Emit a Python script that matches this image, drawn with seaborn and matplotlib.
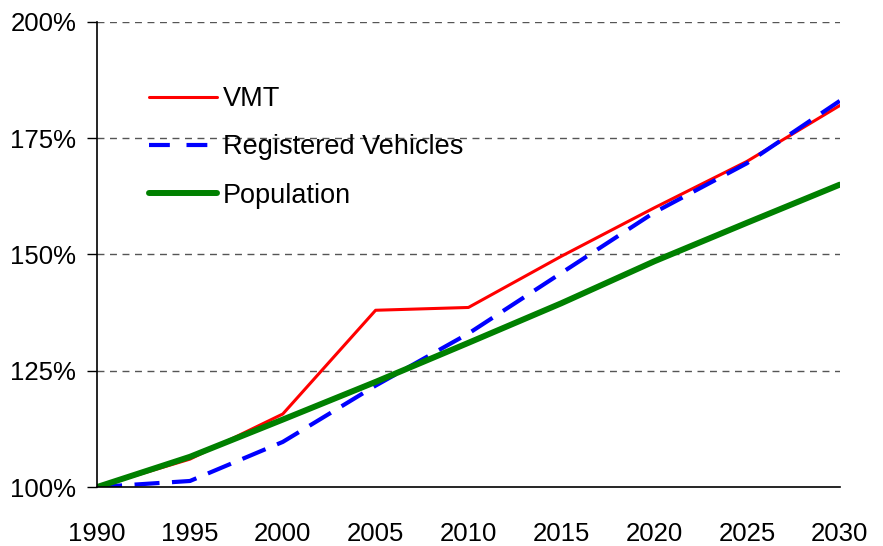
import numpy as np
import pandas as pd
import matplotlib.pyplot as plt
import seaborn as sns
from matplotlib.ticker import FuncFormatter

years = [1990, 1995, 2000, 2005, 2010, 2015, 2020, 2025, 2030]
vmt = [100, 106, 115.7, 138, 138.6, 149.6, 160, 170, 182]
vehicles = [100, 101.3, 109.7, 121.8, 133, 146, 159, 169.6, 183]
population = [100, 106.5, 114.5, 122.6, 131, 139.5, 148.5, 156.8, 165]

series = ["VMT", "Registered Vehicles", "Population"]
colors = ["#ff0000", "#0000ff", "#008000"]
widths = [2.2, 3.0, 4.3]

df = pd.DataFrame({"year": years, "VMT": vmt,
                   "Registered Vehicles": vehicles, "Population": population})

sns.set_style("white")
plt.rcParams["font.family"] = ["Liberation Sans", "DejaVu Sans"]
plt.rcParams["text.color"] = "black"
plt.rcParams["xtick.color"] = "black"
plt.rcParams["ytick.color"] = "black"

fig = plt.figure(figsize=(8.83, 5.46), dpi=100)
ax = fig.add_axes([0.11, 0.108, 0.841, 0.852])

for name, c, lw in zip(series, colors, widths):
    sns.lineplot(data=df, x="year", y=name, ax=ax, color=c, linewidth=lw,
                 label=name)
ax.lines[1].set_dashes([6, 3])
ax.lines[1].set_dash_capstyle("butt")

ax.set_xlim(1990, 2030)
ax.set_ylim(100, 200)
ax.set_yticks([100, 125, 150, 175, 200])
ax.yaxis.set_major_formatter(FuncFormatter(lambda v, p: f"{v:.0f}%"))
ax.set_xticks(years)
ax.set_xticks([1990, 2015], minor=True)
ax.tick_params(axis="x", which="major", length=0, pad=25, labelsize=18.5)
ax.tick_params(axis="x", which="minor", length=8, width=1, color="black",
               direction="out", bottom=True)
ax.tick_params(axis="y", which="major", length=7, width=1, color="black",
               direction="out", left=True, labelsize=18.5, pad=8)
ax.set_xlabel("")
ax.set_ylabel("")

for v in [125, 150, 175, 200]:
    ax.axhline(v, color="#555555", linestyle=(0, (5, 4)), linewidth=1, zorder=0)

for s in ["top", "right"]:
    ax.spines[s].set_visible(False)
for s in ["left", "bottom"]:
    ax.spines[s].set_color("black")
    ax.spines[s].set_linewidth(1.2)

leg = ax.legend(loc="upper left", bbox_to_anchor=(149 / 883, 1 - 86 / 546),
                bbox_transform=fig.transFigure, frameon=False, fontsize=19.5,
                handlelength=2.5, labelspacing=0.83, handletextpad=0.22,
                borderpad=0, borderaxespad=0)
leg.get_lines()[1].set_dashes([5, 4])

fig.savefig("out.png", dpi=100)
